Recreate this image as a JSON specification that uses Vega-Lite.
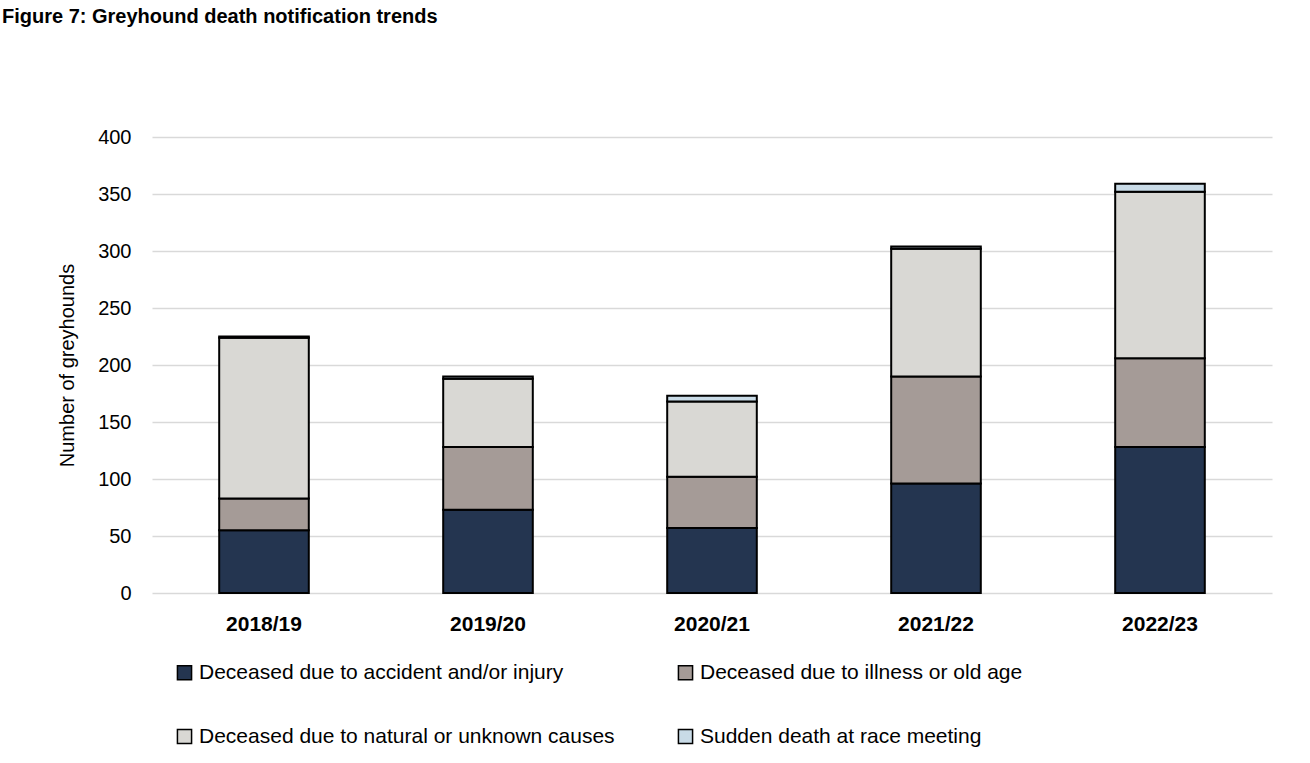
{
  "$schema": "https://vega.github.io/schema/vega-lite/v6.json",
  "autosize": {"type": "none"},
  "width": 1120,
  "height": 456,
  "padding": {"left": 152, "top": 137, "right": 38, "bottom": 170},
  "background": "white",
  "title": {
    "text": "Figure 7: Greyhound death notification trends",
    "anchor": "start",
    "frame": "group",
    "dx": -150,
    "offset": 100,
    "fontSize": 20,
    "font": "Liberation Sans",
    "fontWeight": "bold",
    "color": "black"
  },
  "data": {
    "values": [
      {"year": "2018/19", "cause": "Deceased due to accident and/or injury", "ord": 1, "n": 55},
      {"year": "2018/19", "cause": "Deceased due to illness or old age", "ord": 2, "n": 28},
      {"year": "2018/19", "cause": "Deceased due to natural or unknown causes", "ord": 3, "n": 141},
      {"year": "2018/19", "cause": "Sudden death at race meeting", "ord": 4, "n": 1},
      {"year": "2019/20", "cause": "Deceased due to accident and/or injury", "ord": 1, "n": 73},
      {"year": "2019/20", "cause": "Deceased due to illness or old age", "ord": 2, "n": 55},
      {"year": "2019/20", "cause": "Deceased due to natural or unknown causes", "ord": 3, "n": 60},
      {"year": "2019/20", "cause": "Sudden death at race meeting", "ord": 4, "n": 2},
      {"year": "2020/21", "cause": "Deceased due to accident and/or injury", "ord": 1, "n": 57},
      {"year": "2020/21", "cause": "Deceased due to illness or old age", "ord": 2, "n": 45},
      {"year": "2020/21", "cause": "Deceased due to natural or unknown causes", "ord": 3, "n": 66},
      {"year": "2020/21", "cause": "Sudden death at race meeting", "ord": 4, "n": 5},
      {"year": "2021/22", "cause": "Deceased due to accident and/or injury", "ord": 1, "n": 96},
      {"year": "2021/22", "cause": "Deceased due to illness or old age", "ord": 2, "n": 94},
      {"year": "2021/22", "cause": "Deceased due to natural or unknown causes", "ord": 3, "n": 112},
      {"year": "2021/22", "cause": "Sudden death at race meeting", "ord": 4, "n": 2},
      {"year": "2022/23", "cause": "Deceased due to accident and/or injury", "ord": 1, "n": 128},
      {"year": "2022/23", "cause": "Deceased due to illness or old age", "ord": 2, "n": 78},
      {"year": "2022/23", "cause": "Deceased due to natural or unknown causes", "ord": 3, "n": 146},
      {"year": "2022/23", "cause": "Sudden death at race meeting", "ord": 4, "n": 7}
    ]
  },
  "mark": {"type": "bar", "stroke": "black", "strokeWidth": 2},
  "encoding": {
    "x": {
      "field": "year",
      "type": "nominal",
      "scale": {"paddingInner": 0.6, "paddingOuter": 0.3},
      "axis": {
        "title": null,
        "labelAngle": 0,
        "labelFont": "Liberation Sans",
        "labelFontSize": 21,
        "labelFontWeight": "bold",
        "labelColor": "black",
        "labelPadding": 20,
        "ticks": false,
        "domain": false
      }
    },
    "y": {
      "field": "n",
      "type": "quantitative",
      "stack": "zero",
      "scale": {"domain": [0, 400]},
      "axis": {
        "title": "Number of greyhounds",
        "titleFont": "Liberation Sans",
        "titleFontSize": 20,
        "titleFontWeight": "normal",
        "titleColor": "black",
        "titlePadding": 20,
        "values": [0, 50, 100, 150, 200, 250, 300, 350, 400],
        "labelFont": "Liberation Sans",
        "labelFontSize": 20,
        "labelColor": "black",
        "labelPadding": 21,
        "ticks": false,
        "domain": false,
        "gridColor": "#d9d9d9",
        "gridWidth": 1.5
      }
    },
    "color": {
      "field": "cause",
      "type": "nominal",
      "sort": ["Deceased due to accident and/or injury", "Deceased due to illness or old age", "Deceased due to natural or unknown causes", "Sudden death at race meeting"],
      "scale": {
        "domain": ["Deceased due to accident and/or injury", "Deceased due to illness or old age", "Deceased due to natural or unknown causes", "Sudden death at race meeting"],
        "range": ["#243550", "#a59b97", "#d9d8d4", "#c9dbe7"]
      },
      "legend": {
        "title": null,
        "orient": "none",
        "legendX": 22,
        "legendY": 525,
        "direction": "horizontal",
        "columns": 2,
        "columnPadding": 60,
        "rowPadding": 42,
        "symbolType": "square",
        "symbolSize": 200,
        "symbolStrokeColor": "black",
        "symbolStrokeWidth": 1.5,
        "labelFont": "Liberation Sans",
        "labelFontSize": 21,
        "labelColor": "black",
        "labelOffset": 4,
        "labelLimit": 0
      }
    },
    "order": {"field": "ord", "type": "quantitative"}
  },
  "config": {"view": {"stroke": null}}
}
